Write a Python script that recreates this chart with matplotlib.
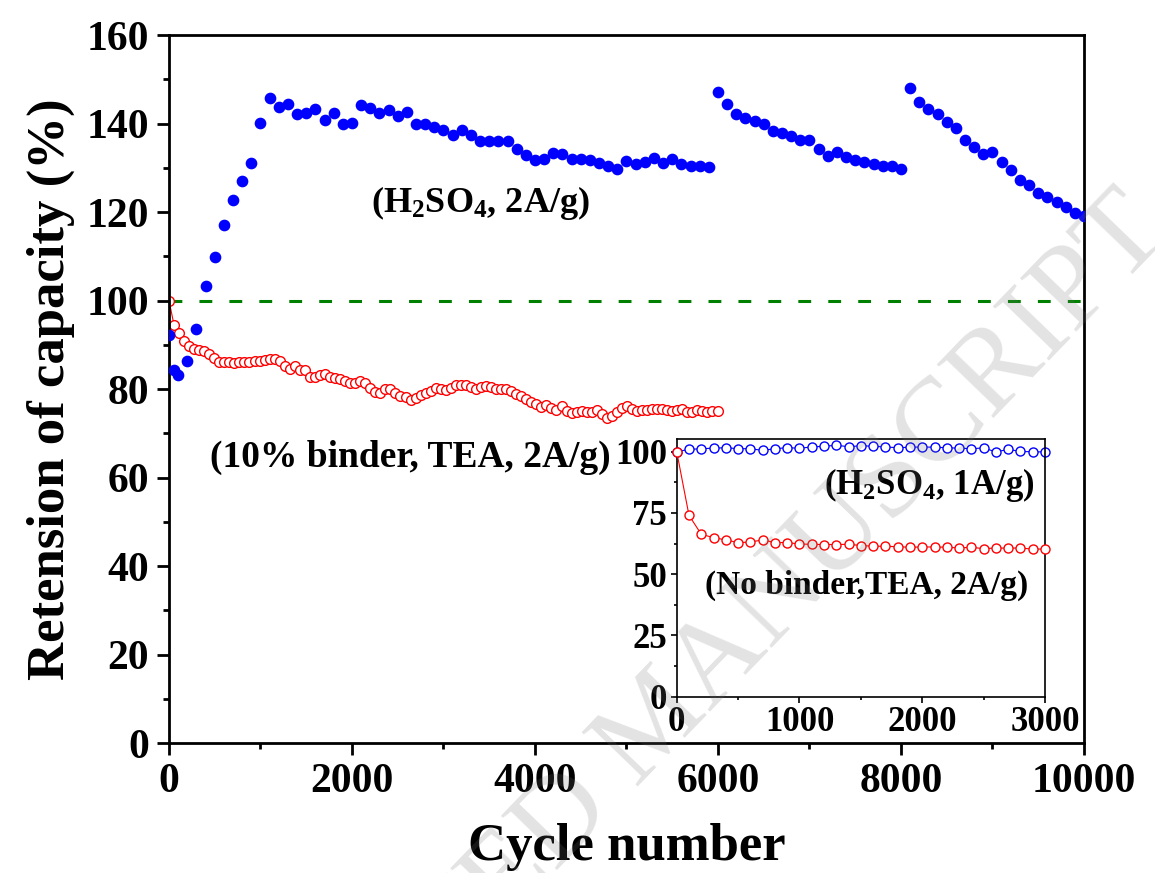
import matplotlib
matplotlib.use("Agg")
import matplotlib.pyplot as plt
from matplotlib.ticker import MultipleLocator
import numpy as np

plt.rcParams['font.family'] = ['Liberation Serif', 'DejaVu Serif']
plt.rcParams['font.weight'] = 'bold'
plt.rcParams['mathtext.fontset'] = 'custom'
plt.rcParams['mathtext.rm'] = 'Liberation Serif:bold'
plt.rcParams['mathtext.it'] = 'Liberation Serif:bold'
plt.rcParams['mathtext.bf'] = 'Liberation Serif:bold'
plt.rcParams['mathtext.default'] = 'rm'

# H2SO4, 2A/g (three runs, filled blue circles)
h2so4_cycles = [0, 50] + list(range(100, 10001, 100))
h2so4_ret = [92.2, 84.3, 83.2, 86.4, 93.6, 103.2,
             109.8, 117, 122.8, 127, 131, 140.2, 145.7, 143.7, 144.3, 142.2,
             142.4, 143.3, 140.7, 142.4, 140, 140.2, 144.1, 143.6, 142.4, 143,
             141.8, 142.6, 140, 139.8, 139.2, 138.6, 137.3, 138.6, 137.3, 136,
             136, 136, 136, 134.3, 132.8, 131.8, 131.9, 133.4, 133.1, 131.9,
             132, 131.8, 131, 130.5, 129.7, 131.5, 130.9, 131.2, 132.1, 131,
             131.9, 130.9, 130.4, 130.4, 130.1,
             147.2, 144.3, 142.1, 141.2, 140.6, 139.9, 138.4, 137.8, 137.1, 136.2,
             136.2, 134.3, 132.7, 133.5, 132.4, 131.8, 131.2, 130.8, 130.5, 130.3,
             129.7,
             148.1, 144.9, 143.2, 142.1, 140.3, 139.0, 136.2, 134.6, 133.2, 133.6,
             131.4, 129.6, 127.3, 126.1, 124.4, 123.5, 122.3, 121.2, 119.8, 119.2]

# 10% binder, TEA, 2A/g (open red circles)
tea_step = 55
tea_ret = [100, 94.5, 92.7, 90.8, 89.7, 89.1, 88.9, 88.6, 87.9, 86.9,
           86.2, 86.1, 86.2, 85.8, 86.0, 86.2, 86.2, 86.3, 86.3, 86.5,
           86.7, 86.8, 86.3, 85.1, 84.5, 85.2, 84.3, 84.2, 82.8, 82.8,
           83.1, 83.4, 82.8, 82.6, 82.3, 81.7, 81.3, 81.4, 81.8, 81.4,
           80.3, 79.3, 79.0, 79.9, 79.9, 79.1, 78.5, 78.1, 77.5, 77.9,
           78.7, 79.1, 79.6, 80.3, 80.0, 79.8, 80.3, 80.8, 80.8, 80.8,
           80.5, 79.9, 80.5, 80.6, 80.5, 80.1, 80.0, 79.9, 79.5, 78.9,
           78.4, 77.7, 77.0, 76.5, 76.0, 76.3, 75.7, 75.3, 76.2, 75.0,
           74.5, 74.9, 75.0, 74.7, 74.9, 75.3, 74.3, 73.5, 73.8, 74.9,
           75.8, 76.2, 75.4, 75.1, 75.3, 75.3, 75.4, 75.5, 75.4, 75.3,
           75.1, 75.3, 75.4, 74.9, 74.9, 75.3, 75.1, 74.9, 75.1, 75.1]
tea_cycles = np.arange(len(tea_ret)) * tea_step

# inset: H2SO4 1A/g and no binder TEA 2A/g
inset_cycles = list(range(0, 3001, 100))
inset_h2so4 = [100, 100.9, 101.2, 101.4, 101.6, 101.2, 101.2, 100.5, 101.2, 101.6,
               101.4, 101.9, 102.2, 102.6, 102.0, 102.4, 102.2, 101.9, 101.6, 101.8,
               101.9, 101.8, 101.6, 101.4, 101.2, 101.5, 99.9, 100.9, 100.1, 99.9, 99.9]
inset_nobinder = [100, 74, 66.3, 64.9, 64, 62.9, 63.1, 64, 62.9, 62.9,
                  62.3, 62.2, 62.1, 62.1, 62.2, 61.7, 61.4, 61.4, 61.2, 61.0,
                  61.1, 61.1, 61.0, 60.7, 61.0, 60.4, 60.7, 60.6, 60.7, 60.2, 60.3]

fig = plt.figure(figsize=(11.55, 8.73), dpi=100)
ax = fig.add_axes([0.1463, 0.1489, 0.7922, 0.8110])

ax.axhline(100, color='#008000', linewidth=2.2, linestyle=(0, (4.2, 5.6)), zorder=1)
ax.plot(tea_cycles, tea_ret, color='red', linewidth=0.8, marker='o', markersize=7,
        markerfacecolor='white', markeredgecolor='red', markeredgewidth=1.0, zorder=2)
ax.plot(h2so4_cycles, h2so4_ret, linestyle='none', marker='o', markersize=7.4,
        color='blue', zorder=3)

ax.set_xlim(0, 10000)
ax.set_ylim(0, 160)
ax.xaxis.set_major_locator(MultipleLocator(2000))
ax.xaxis.set_minor_locator(MultipleLocator(1000))
ax.yaxis.set_major_locator(MultipleLocator(20))
ax.yaxis.set_minor_locator(MultipleLocator(10))
ax.tick_params(which='major', direction='out', length=8.5, width=2, labelsize=30, pad=6)
ax.tick_params(which='minor', direction='out', length=4, width=2)
for s in ax.spines.values():
    s.set_linewidth(2)

ax.set_xlabel('Cycle number', fontsize=38, fontweight='bold', labelpad=16)
ax.set_ylabel('Retension of capacity (%)', fontsize=38, fontweight='bold', labelpad=8)

ax.text(3400, 120, r'(H$_2$SO$_4$, 2A/g)', fontsize=26, ha='center', va='baseline')
ax.text(2640, 62.4, '(10% binder, TEA, 2A/g)', fontsize=27, ha='center', va='baseline')

# inset
axin = fig.add_axes([0.5859, 0.2019, 0.3189, 0.2948])
axin.plot(inset_cycles, inset_nobinder, color='red', linewidth=0.8, marker='o',
          markersize=6.5, markerfacecolor='white', markeredgecolor='red',
          markeredgewidth=1.0, clip_on=False, zorder=3)
axin.plot(inset_cycles, inset_h2so4, color='blue', linewidth=0.8, marker='o',
          markersize=6.5, markerfacecolor='white', markeredgecolor='blue',
          markeredgewidth=1.0, clip_on=False, zorder=2)
axin.set_xlim(0, 3000)
axin.set_ylim(0, 105)
axin.xaxis.set_major_locator(MultipleLocator(1000))
axin.xaxis.set_minor_locator(MultipleLocator(500))
axin.yaxis.set_major_locator(MultipleLocator(25))
axin.yaxis.set_minor_locator(MultipleLocator(12.5))
axin.tick_params(which='major', direction='out', length=4, width=1.2, labelsize=25, pad=3)
axin.tick_params(which='minor', direction='out', length=2.5, width=1.2)
for s in axin.spines.values():
    s.set_linewidth(1.2)
axin.text(2060, 82.8, r'(H$_2$SO$_4$, 1A/g)', fontsize=25, ha='center', va='baseline')
axin.text(1550, 42.2, '(No binder,TEA, 2A/g)', fontsize=24, ha='center', va='baseline')

fig.text(0.996, 0.754, 'ACCEPTED MANUSCRIPT', fontsize=86, fontweight='normal',
         color='0.45', alpha=0.2, rotation=46, rotation_mode='anchor',
         ha='right', va='center', zorder=10)

fig.savefig('out.png', dpi=100)
